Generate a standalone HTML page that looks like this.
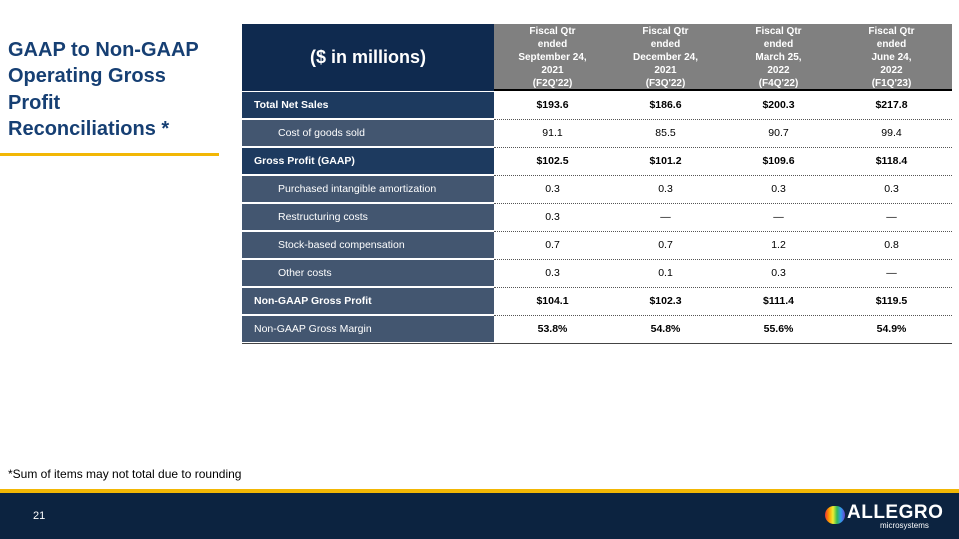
<!DOCTYPE html>
<html><head><meta charset="utf-8"><style>
body{margin:0;width:959px;height:539px;position:relative;background:#fff;font-family:"Liberation Sans",Arial,sans-serif;overflow:hidden}
.abs{position:absolute}
.title{left:8px;top:37px;font-size:20px;font-weight:bold;color:#163f73;line-height:26.3px;width:215px}
.hdr{top:24px;height:67px}
.lab{left:242px;width:252px;color:#fff;font-size:10.5px;display:flex;align-items:center;box-sizing:border-box;padding-left:12px}
.val{width:113px;text-align:center;font-size:10.5px;color:#000}
.dot{left:494px;width:458px;border-top:1px dotted #555;height:0}
</style></head><body>
<div class="abs title">GAAP to Non-GAAP<br>Operating Gross<br>Profit<br>Reconciliations *</div>
<div class="abs" style="left:0;top:153px;width:219px;height:3px;background:#f2b705"></div>
<div class="abs hdr" style="left:242px;width:252px;background:#0f2a4f;color:#fff;font-size:18px;font-weight:bold;display:flex;align-items:center;justify-content:center">($ in millions)</div>
<div class="abs hdr" style="left:494px;width:458px;background:#808080;border-bottom:2px solid #000;box-sizing:border-box"></div>
<div id="tbl"></div>
<div class="abs" style="left:8px;top:467px;font-size:12px">*Sum of items may not total due to rounding</div>
<div class="abs" style="left:0;top:489px;width:959px;height:4px;background:#f2b705"></div>
<div class="abs" style="left:0;top:493px;width:959px;height:46px;background:#0c2340"></div>
<div class="abs" style="left:33px;top:510px;color:#fff;font-size:11px">21</div>
<div class="abs" style="left:825px;top:506px;width:20px;height:18px;border-radius:9px;background:linear-gradient(90deg,#e33,#f90,#ee3,#3b5,#39e,#64c)"></div>
<div class="abs" style="left:847px;top:502px;color:#fff;font-size:19px;font-weight:bold;letter-spacing:0.5px">ALLEGRO</div>
<div class="abs" style="left:880px;top:521px;color:#fff;font-size:8px">microsystems</div>
<script>
const headers=["Fiscal Qtr<br>ended<br>September 24,<br>2021<br>(F2Q'22)","Fiscal Qtr<br>ended<br>December 24,<br>2021<br>(F3Q'22)","Fiscal Qtr<br>ended<br>March 25,<br>2022<br>(F4Q'22)","Fiscal Qtr<br>ended<br>June 24,<br>2022<br>(F1Q'23)"];
const labels=["Total  Net Sales","Cost of goods sold","Gross Profit (GAAP)","Purchased intangible amortization","Restructuring costs","Stock-based compensation","Other costs","Non-GAAP Gross Profit","Non-GAAP Gross Margin"];
const bold=[1,0,1,0,0,0,0,1,0];
const indent=[0,1,0,1,1,1,1,0,0];
const dark=[1,0,1,0,0,0,0,0,0];
const q2=["$193.6","91.1","$102.5","0.3","0.3","0.7","0.3","$104.1","53.8%"];
const q3=["$186.6","85.5","$101.2","0.3","—","0.7","0.1","$102.3","54.8%"];
const q4=["$200.3","90.7","$109.6","0.3","—","1.2","0.3","$111.4","55.6%"];
const q1=["$217.8","99.4","$118.4","0.3","—","0.8","—","$119.5","54.9%"];
const cols=[q2,q3,q4,q1];
const t=document.getElementById('tbl');
headers.forEach((h,c)=>{const d=document.createElement('div');d.className='abs val';


d.style.left=(496+c*113)+'px';d.style.top='25px';d.style.color='#fff';d.style.fontSize='10px';d.style.fontWeight='bold';d.style.lineHeight='13px';d.innerHTML=h;t.appendChild(d);});
labels.forEach((l,i)=>{const top=92+i*28;
const d=document.createElement('div');d.className='abs lab';


d.style.top=top+'px';d.style.height='26px';d.style.background=dark[i]?'#1d3a5f':'#435670';
if(bold[i])d.style.fontWeight='bold';if(indent[i])d.style.paddingLeft='36px';d.textContent=l;t.appendChild(d);
cols.forEach((col,c)=>{const v=document.createElement('div');v.className='abs val';


v.style.left=(496+c*113)+'px';v.style.top=(top+7)+'px';if(bold[i]||i==8)v.style.fontWeight='bold';v.textContent=col[i];t.appendChild(v);});
const s=document.createElement('div');s.className='abs dot';


s.style.top=(top+27)+'px';if(i==8){s.style.borderTop='1px solid #444';s.style.left='242px';s.style.width='710px';}t.appendChild(s);});
</script>
</body></html>
